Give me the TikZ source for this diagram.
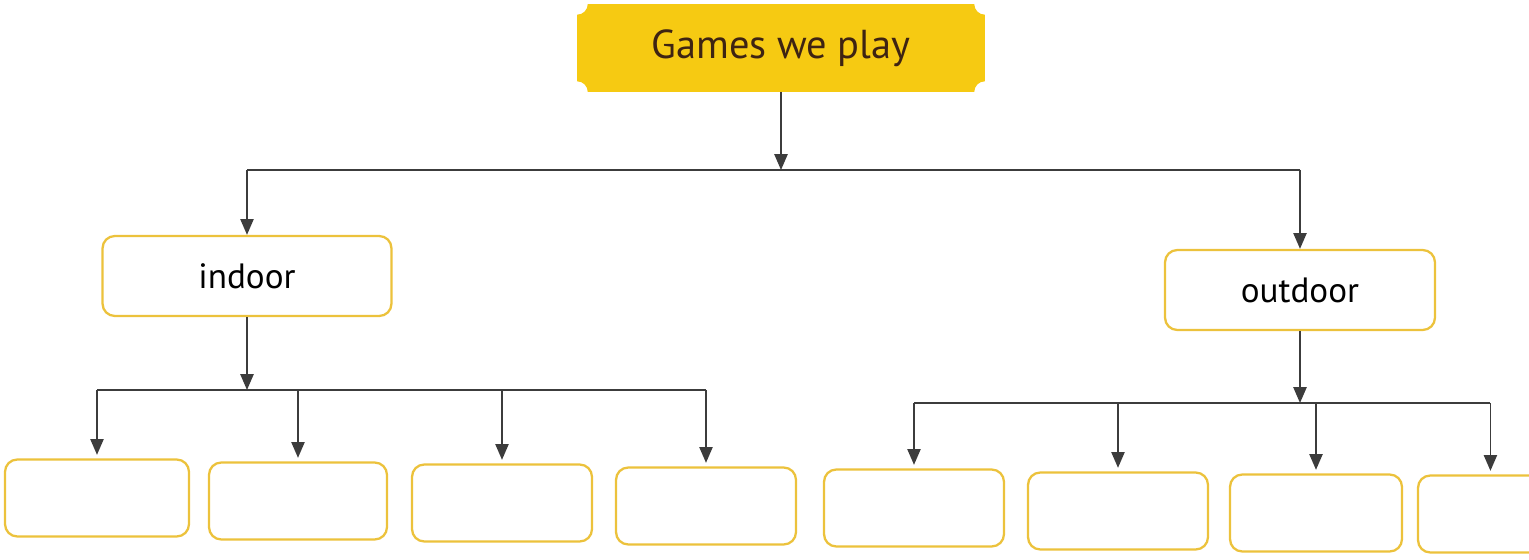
\documentclass[tikz,border=0pt]{standalone}
\usepackage{fontspec}
\setmainfont{PT Sans}
\usetikzlibrary{arrows.meta, positioning, calc, backgrounds}
\definecolor{titlefill}{RGB}{246,202,18}
\definecolor{titletext}{RGB}{62,36,18}
\definecolor{boxline}{RGB}{236,194,60}
\definecolor{arrcol}{RGB}{60,60,60}

\begin{document}
\begin{tikzpicture}[
  x=0.02cm, y=0.02cm,
  >={Triangle[length=9pt,width=7.5pt]},
  titlebox/.style={
    minimum width=8.14cm, minimum height=1.74cm, inner sep=0pt,
    text=titletext, font=\fontsize{23}{28}\selectfont
  },
  catbox/.style={
    draw=boxline, fill=white, rounded corners=7pt, line width=1.3pt,
    minimum height=1.6cm, inner sep=0pt, font=\fontsize{20}{24}\selectfont
  },
  gamebox/.style={
    draw=boxline, fill=white, rounded corners=7pt, line width=1.3pt,
    minimum width=3.6cm, minimum height=1.54cm, inner sep=0pt
  },
  arr/.style={->, line width=1pt, color=arrcol},
  bar/.style={line width=1pt, color=arrcol},
]
\useasboundingbox (0,0) rectangle (1529,-560);

% --- Title ---
\node[titlebox] (title) at (781,-48) {Games we play};
\begin{scope}[on background layer]
  \fill[titlefill]
    ([xshift=6pt]title.north west) -- ([xshift=-6pt]title.north east)
    arc[start angle=180, end angle=270, radius=6pt]
    -- ([yshift=6pt]title.south east)
    arc[start angle=90, end angle=180, radius=6pt]
    -- ([xshift=6pt]title.south west)
    arc[start angle=0, end angle=90, radius=6pt]
    -- ([yshift=-6pt]title.north west)
    arc[start angle=270, end angle=360, radius=6pt] -- cycle;
\end{scope}

% --- Categories ---
\node[catbox, minimum width=5.78cm] (indoor)  at (247,-276)  {indoor};
\node[catbox, minimum width=5.4cm]  (outdoor) at (1300,-290) {outdoor};

% --- Empty boxes ---
\node[gamebox, minimum width=3.68cm] (in1) at (97,-498)  {};
\node[gamebox, minimum width=3.56cm] (in2) at (298,-501) {};
\node[gamebox]                       (in3) at (502,-503) {};
\node[gamebox]                       (in4) at (706,-506) {};
\node[gamebox]                       (out1) at (914,-508)  {};
\node[gamebox]                       (out2) at (1118,-511) {};
\node[gamebox, minimum width=3.44cm] (out3) at (1316,-513) {};
\node[gamebox]                       (out4) at (1508,-514) {};

% --- Connectors ---
\coordinate (topbar) at (781,-170);
\coordinate (inbar)  at (248,-390);
\coordinate (outbar) at (1302,-403);

\draw[arr] (title) -- (topbar);
\draw[bar] (indoor.north |- topbar) -- (outdoor.north |- topbar);
\foreach \n in {indoor, outdoor}
  \draw[arr] (\n.north |- topbar) -- (\n.north);

\draw[arr] (indoor.south) -- (indoor.south |- inbar);
\draw[bar] (in1.north |- inbar) -- (in4.north |- inbar);
\foreach \n in {in1, in2, in3, in4}
  \draw[arr] (\n.north |- inbar) -- ([yshift=2pt]\n.north);

\draw[arr] (outdoor.south) -- (outdoor.south |- outbar);
\draw[bar] (out1.north |- outbar) -- ([xshift=-10pt]out4.north |- outbar);
\foreach \n in {out1, out2, out3}
  \draw[arr] (\n.north |- outbar) -- ([yshift=2pt]\n.north);
\draw[arr] ([xshift=-10pt]out4.north |- outbar) -- ([xshift=-10pt,yshift=2pt]out4.north);

\end{tikzpicture}
\end{document}
